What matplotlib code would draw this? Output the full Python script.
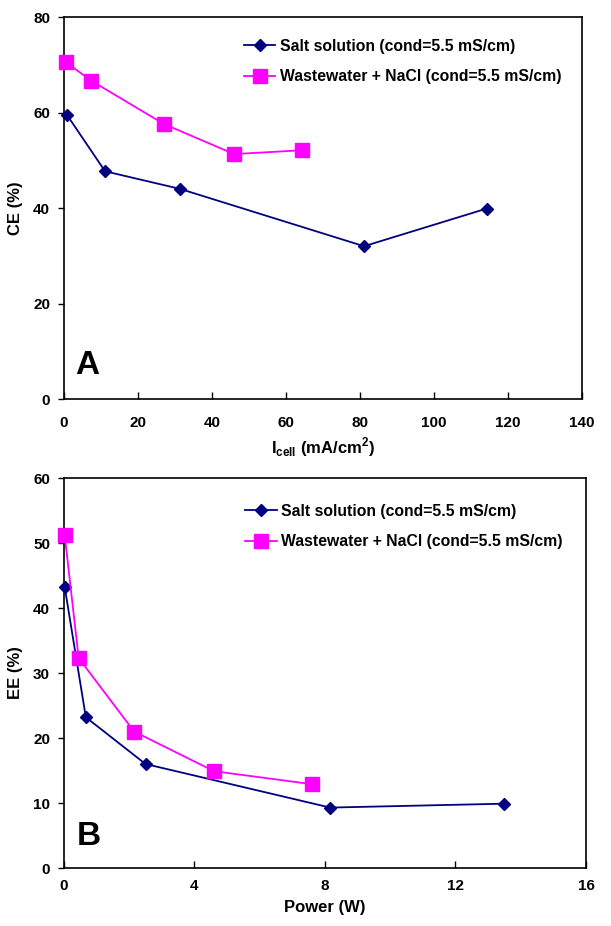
import matplotlib
matplotlib.use("Agg")
import matplotlib.pyplot as plt

plt.rcParams['font.family'] = ['Liberation Sans', 'DejaVu Sans']
plt.rcParams['font.weight'] = 'bold'
plt.rcParams['mathtext.default'] = 'bf'

# panel A: CE vs current density
salt_i = [0.9, 11.1, 31.4, 81.1, 114.3]
salt_ce = [59.4, 47.7, 44.0, 32.0, 39.9]
ww_i = [0.6, 7.3, 27.0, 46.0, 64.3]
ww_ce = [70.5, 66.7, 57.6, 51.3, 52.1]

# panel B: EE vs power
salt_p = [0.02, 0.67, 2.5, 8.16, 13.5]
salt_ee = [43.3, 23.2, 16.0, 9.3, 9.9]
ww_p = [0.02, 0.45, 2.15, 4.6, 7.6]
ww_ee = [51.3, 32.3, 21.0, 14.9, 12.9]

salt_label = 'Salt solution (cond=5.5 mS/cm)'
ww_label = 'Wastewater + NaCl (cond=5.5 mS/cm)'

navy = '#000080'
magenta = '#ff00ff'

fig = plt.figure(figsize=(6.11, 9.26), dpi=100)
ax1 = fig.add_axes([0.1047, 0.5691, 0.8478, 0.4125])
ax2 = fig.add_axes([0.1047, 0.0626, 0.8543, 0.4212])


def style(ax, xpad):
    for s in ax.spines.values():
        s.set_linewidth(1.2)
    ax.tick_params(axis='x', direction='in', length=5, width=1, labelsize=11, pad=xpad)
    ax.tick_params(axis='y', direction='out', length=4, width=1, labelsize=11, pad=6)
    for lab in ax.get_xticklabels() + ax.get_yticklabels():
        lab.set_fontweight('bold')


def draw(ax, x1, y1, x2, y2):
    ax.plot(x1, y1, color=navy, marker='D', markersize=6.5, lw=1.3, label=salt_label, clip_on=False, zorder=3)
    ax.plot(x2, y2, color=magenta, marker='s', markersize=10.5, lw=1.3, label=ww_label, clip_on=False, zorder=3)


draw(ax1, salt_i, salt_ce, ww_i, ww_ce)
ax1.set_xlim(0, 140)
ax1.set_ylim(0, 80)
ax1.set_xticks(range(0, 141, 20))
ax1.set_yticks(range(0, 81, 20))
style(ax1, 12)
ax1.set_xlabel(r'I$_{\mathregular{cell}}$ (mA/cm$^{\mathregular{2}}$)', fontsize=12, fontweight='bold', labelpad=4)
ax1.set_ylabel('CE (%)', fontsize=12, fontweight='bold', labelpad=7)
ax1.text(0.022, 0.065, 'A', transform=ax1.transAxes, fontsize=24, fontweight='bold')
ax1.legend(loc='upper left', bbox_to_anchor=(0.32, 0.98), frameon=False, fontsize=11.3,
           handlelength=2.0, handletextpad=0.3, labelspacing=0.97)

draw(ax2, salt_p, salt_ee, ww_p, ww_ee)
ax2.set_xlim(0, 16)
ax2.set_ylim(0, 60)
ax2.set_xticks(range(0, 17, 4))
ax2.set_yticks(range(0, 61, 10))
style(ax2, 8)
ax2.set_xlabel('Power (W)', fontsize=12, fontweight='bold', labelpad=5)
ax2.set_ylabel('EE (%)', fontsize=12, fontweight='bold', labelpad=7)
ax2.text(0.025, 0.06, 'B', transform=ax2.transAxes, fontsize=24, fontweight='bold')
ax2.legend(loc='upper left', bbox_to_anchor=(0.32, 0.97), frameon=False, fontsize=11.3,
           handlelength=2.0, handletextpad=0.3, labelspacing=0.97)

fig.savefig('out.png', dpi=100)
